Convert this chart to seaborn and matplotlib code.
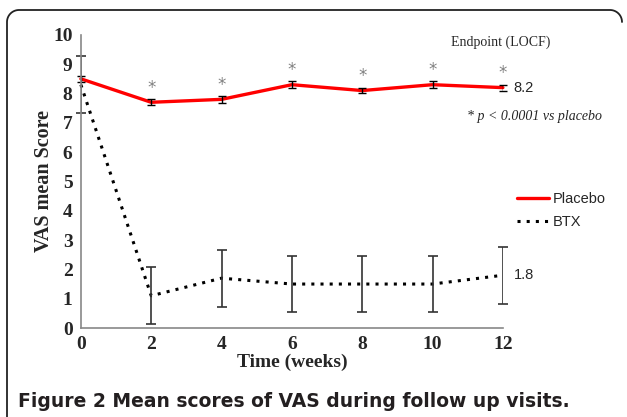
import numpy as np
import pandas as pd
import matplotlib
matplotlib.use('Agg')
import matplotlib.pyplot as plt
from matplotlib.lines import Line2D
import seaborn as sns

weeks = [0, 2, 4, 6, 8, 10, 12]
placebo = [8.5, 7.7, 7.8, 8.3, 8.1, 8.3, 8.2]
placebo_err = [0.1, 0.1, 0.11, 0.11, 0.1, 0.11, 0.1]
btx = [8.3, 1.1, 1.7, 1.5, 1.5, 1.5, 1.8]
btx_err = [0.97, 0.97, 0.97, 0.97, 0.97, 0.97, 0.97]
star_weeks = [2, 4, 6, 8, 10, 12]

W, H = 627, 417


def frame_path():
    # top-left rounded corner + top edge + short top-right corner, in pixels
    r = 12
    left, right, top, bottom = 7, 622, 10, 420
    t = np.linspace(np.pi, np.pi / 2, 20)
    xs = [left] + list(left + r + r * np.cos(t))
    ys = [bottom] + list(top + r - r * np.sin(t))
    t2 = np.linspace(np.pi / 2, 0, 20)
    xs += list(right - r + r * np.cos(t2))
    ys += list(top + r - r * np.sin(t2))
    xs = np.array(xs) / W
    ys = 1 - np.array(ys) / H
    return xs, ys


def main():
    sns.set_style('white')
    plt.rcParams['font.family'] = ['Liberation Serif', 'DejaVu Serif']

    data = pd.DataFrame({
        'week': weeks * 2,
        'score': placebo + btx,
        'group': ['Placebo'] * len(weeks) + ['BTX'] * len(weeks),
    })

    fig = plt.figure(figsize=(W / 100, H / 100), dpi=100)
    ax = fig.add_axes([0.129, 0.2134, 0.673, 0.703])

    sns.lineplot(data=data[data['group'] == 'Placebo'], x='week', y='score',
                 color='#ff0000', linewidth=2.4, ax=ax, legend=False)
    sns.lineplot(data=data[data['group'] == 'BTX'], x='week', y='score',
                 color='black', linewidth=2.2, linestyle=(0, (1, 2)), ax=ax,
                 legend=False)

    ax.errorbar(weeks, btx, yerr=btx_err, fmt='none', ecolor='#333333',
                elinewidth=1.2, capsize=3.5, capthick=1.2)
    ax.errorbar(weeks, placebo, yerr=placebo_err, fmt='none', ecolor='black',
                elinewidth=1.0, capsize=3, capthick=1.0)

    # significance stars above placebo
    for w in star_weeks:
        y = placebo[weeks.index(w)]
        ax.text(w, y + 0.5, '*', ha='center', va='center', color='#808080',
                fontsize=12, family='DejaVu Sans')

    ax.text(12.3, placebo[-1], '8.2', ha='left', va='center', fontsize=10.5,
            family='Liberation Sans')
    ax.text(12.3, btx[-1], '1.8', ha='left', va='center', fontsize=10.5,
            family='Liberation Sans')

    ax.set_xlim(0, 12)
    ax.set_ylim(0, 10)
    ax.set_xticks(range(0, 13, 2))
    ax.set_yticks(range(0, 11))
    ax.tick_params(axis='both', direction='out', length=3, width=1,
                   color='#888888', labelsize=14, pad=3)
    for lab in ax.get_xticklabels() + ax.get_yticklabels():
        lab.set_fontweight('bold')
    for side in ['top', 'right']:
        ax.spines[side].set_visible(False)
    for side in ['left', 'bottom']:
        ax.spines[side].set_color('#888888')
        ax.spines[side].set_linewidth(1.2)
    ax.set_xlabel('Time (weeks)', fontsize=14, fontweight='bold', labelpad=0)
    ax.set_ylabel('VAS mean Score', fontsize=14.5, fontweight='bold',
                  labelpad=-0.5)
    for line in ax.lines:
        line.set_clip_on(False)

    fig.text(0.72, 0.89, 'Endpoint (LOCF)', fontsize=10)
    fig.text(0.745, 0.712, '* p < 0.0001 vs placebo', fontsize=10,
             style='italic')

    handles = [Line2D([], [], color='#ff0000', lw=2.4),
               Line2D([], [], color='black', lw=2.2, linestyle=(0, (1, 2)))]
    fig.legend(handles, ['Placebo', 'BTX'], loc='upper left',
               bbox_to_anchor=(0.803, 0.57), frameon=False, handlelength=2.2,
               handletextpad=0.3, labelspacing=0.6,
               prop={'family': 'Liberation Sans', 'size': 10.5})

    xs, ys = frame_path()
    fig.add_artist(Line2D(xs, ys, transform=fig.transFigure,
                          color='#222222', lw=1.3))

    fig.text(0.029, 0.025, 'Figure 2 Mean scores of VAS during follow up visits.',
             fontsize=13.5, fontweight='bold', family='DejaVu Sans',
             color='#231f20')

    fig.savefig('out.png', dpi=100)
    plt.close(fig)


if __name__ == '__main__':
    main()
